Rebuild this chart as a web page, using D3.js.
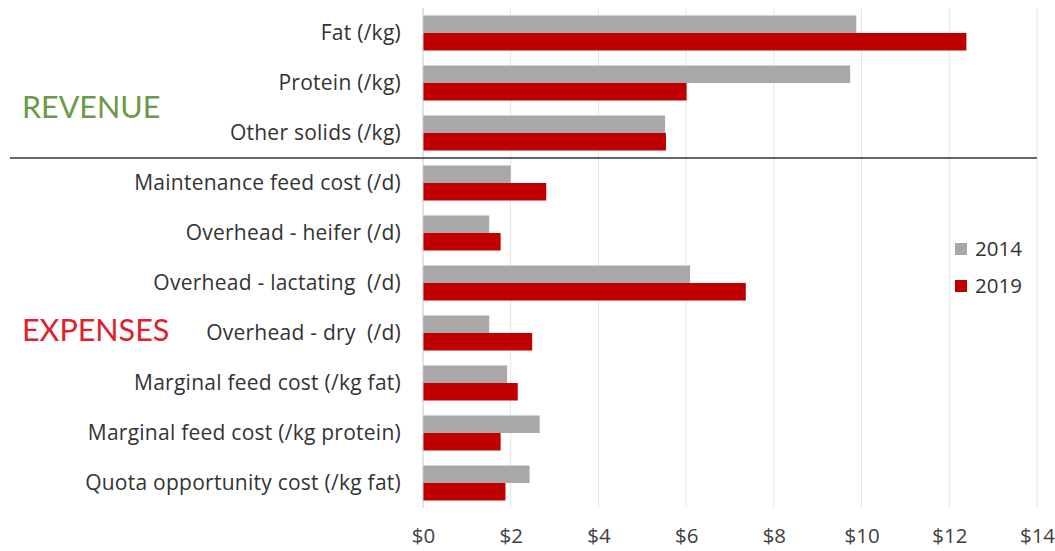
<!DOCTYPE html>
<html>
<head>
<meta charset="utf-8">
<script src="https://cdn.jsdelivr.net/npm/d3@7"></script>
<style>
  html, body { margin: 0; padding: 0; background: #fff; }
  svg { display: block; font-family: "Open Sans", Lato, sans-serif; }
  svg text { white-space: pre; }
</style>
</head>
<body>
<svg id="chart" width="1055" height="551"></svg>
<script>
// Per-unit revenue and expense items, 2014 vs 2019
const categories = [
  "Fat (/kg)",
  "Protein (/kg)",
  "Other solids (/kg)",
  "Maintenance feed cost (/d)",
  "Overhead - heifer (/d)",
  "Overhead - lactating  (/d)",
  "Overhead - dry  (/d)",
  "Marginal feed cost (/kg fat)",
  "Marginal feed cost (/kg protein)",
  "Quota opportunity cost (/kg fat)"
];
const years = ["2014", "2019"];
const values2014 = [9.88, 9.74, 5.52, 2.00, 1.51, 6.09, 1.51, 1.92, 2.66, 2.43];
const values2019 = [12.39, 6.01, 5.54, 2.81, 1.77, 7.36, 2.49, 2.16, 1.77, 1.88];
const xTicks = [0, 2, 4, 6, 8, 10, 12, 14];
const revenueCount = 3;

const colors = { "2014": "#a9a7a7", "2019": "#c00000" };
const series = { "2014": values2014, "2019": values2019 };

const svg = d3.select("#chart");
const margin = { top: 8, left: 423, right: 18, bottom: 43 };
const width = 1055, height = 551;
const labelFont = "'Open Sans', Lato, sans-serif";

const x = d3.scaleLinear().domain([0, 14]).range([margin.left, width - margin.right]);
const y = d3.scaleBand().domain(categories).range([margin.top, height - margin.bottom]).paddingInner(0.3).paddingOuter(0.15);
const ySub = d3.scaleBand().domain(years).range([0, y.bandwidth()]);

// gridlines
svg.append("g")
  .selectAll("line")
  .data(xTicks.slice(1))
  .join("line")
  .attr("x1", d => x(d)).attr("x2", d => x(d))
  .attr("y1", margin.top).attr("y2", height - margin.bottom)
  .attr("stroke", "#e6e6e6").attr("stroke-width", 1);

// bars
const groups = svg.append("g")
  .selectAll("g")
  .data(categories)
  .join("g")
  .attr("transform", d => `translate(0,${y(d)})`);

groups.selectAll("rect")
  .data((d, i) => years.map(yr => ({ yr, v: series[yr][i] })))
  .join("rect")
  .attr("x", x(0))
  .attr("y", d => ySub(d.yr))
  .attr("width", d => x(d.v) - x(0))
  .attr("height", ySub.bandwidth())
  .attr("fill", d => colors[d.yr]);

// vertical axis line
svg.append("line")
  .attr("x1", x(0)).attr("x2", x(0))
  .attr("y1", margin.top).attr("y2", height - margin.bottom)
  .attr("stroke", "#c8c8c8").attr("stroke-width", 1);

// x axis
const xAxis = svg.append("g")
  .attr("transform", `translate(0,${height - margin.bottom})`)
  .call(d3.axisBottom(x).tickValues(xTicks).tickFormat(d => "$" + d).tickSize(0).tickPadding(20));
xAxis.select(".domain").remove();
xAxis.selectAll("text")
  .attr("font-size", 20.5).attr("fill", "#404040")
  .style("font-family", labelFont);

// y axis labels
const yAxis = svg.append("g")
  .attr("transform", `translate(${x(0)},0)`)
  .call(d3.axisLeft(y).tickSize(0).tickPadding(22));
yAxis.select(".domain").remove();
yAxis.selectAll("text")
  .attr("font-size", 21).attr("fill", "#333")
  .attr("letter-spacing", 0.25)
  .style("font-family", labelFont);

// divider between revenue and expenses
const dividerY = (y(categories[revenueCount - 1]) + y.bandwidth() + y(categories[revenueCount])) / 2;
svg.append("line")
  .attr("x1", 10).attr("x2", x(14))
  .attr("y1", dividerY).attr("y2", dividerY)
  .attr("stroke", "#333").attr("stroke-width", 1.5);

// section titles
svg.append("text")
  .attr("x", 22).attr("y", 118)
  .attr("font-size", 30.5).attr("fill", "#6a9a48")
  .style("font-family", "Lato, sans-serif")
  .text("REVENUE");
svg.append("text")
  .attr("x", 22).attr("y", 341)
  .attr("font-size", 30.5).attr("fill", "#e0202a")
  .style("font-family", "Lato, sans-serif")
  .text("EXPENSES");

// legend
const legend = svg.append("g").attr("transform", "translate(955,240)");
years.forEach((yr, i) => {
  const g = legend.append("g").attr("transform", `translate(0,${i * 37})`);
  g.append("rect").attr("x", 0).attr("y", 3).attr("width", 12).attr("height", 12).attr("fill", colors[yr]);
  g.append("text").attr("x", 20).attr("y", 9).attr("dy", "0.35em")
    .attr("font-size", 20.5).attr("fill", "#333")
    .style("font-family", labelFont).text(yr);
});
</script>
</body>
</html>
